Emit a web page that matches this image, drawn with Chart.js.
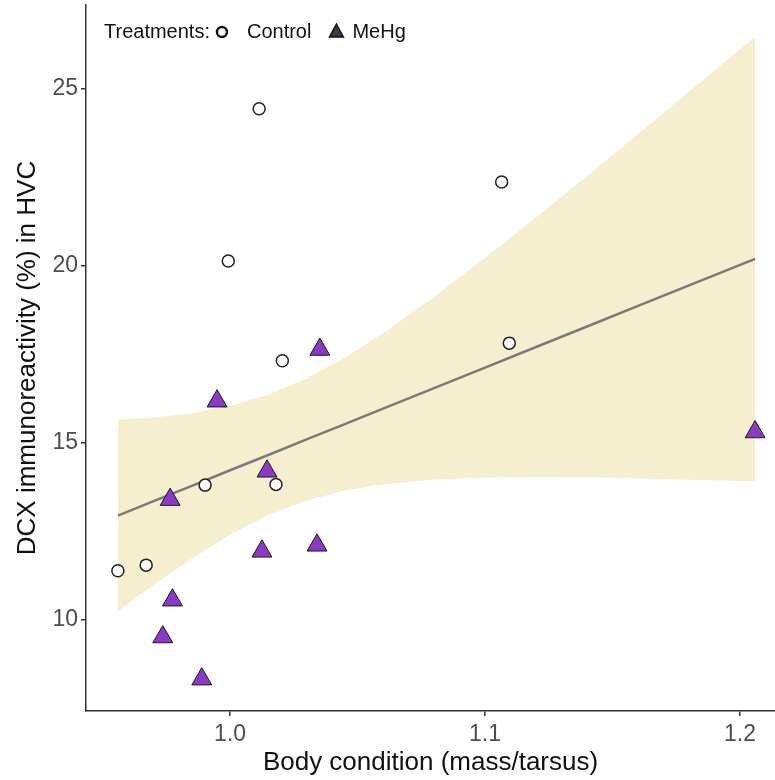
<!DOCTYPE html>
<html lang="en">
<head>
<meta charset="UTF-8">
<title>DCX immunoreactivity vs body condition</title>
<script src="https://cdn.jsdelivr.net/npm/chart.js@4.4.1/dist/chart.umd.min.js"></script>
<style>
    html, body { margin: 0; padding: 0; background: #fff; }
    #wrap { width: 775px; height: 780px; }
</style>
</head>
<body>
<div id="wrap"><canvas id="scatterChart" width="775" height="780"></canvas></div>
<script>
    // Control birds
    const controlX = [0.9560, 0.9671, 0.9902, 0.9993, 1.0114, 1.0180, 1.0205, 1.1065, 1.1095];
    const controlY = [11.39, 11.55, 13.81, 20.14, 24.44, 13.83, 17.32, 22.37, 17.82];

    // MeHg-dosed birds
    const mehgX = [0.9765, 0.9774, 0.9736, 0.9889, 0.9949, 1.0145, 1.0125, 1.0352, 1.0341, 1.2059];
    const mehgY = [13.40, 10.56, 9.52, 8.33, 16.18, 14.20, 11.94, 17.64, 12.11, 15.31];

    // Linear fit with its confidence band
    const fitX     = [0.956, 0.970, 0.985, 1.000, 1.015, 1.030, 1.045, 1.060, 1.080, 1.100, 1.120, 1.140, 1.160, 1.180, 1.2059];
    const fitY     = [12.95, 13.36, 13.79, 14.23, 14.66, 15.10, 15.53, 15.97, 16.55, 17.13, 17.71, 18.29, 18.87, 19.45, 20.20];
    const fitUpper = [15.66, 15.72, 15.84, 16.05, 16.37, 16.82, 17.41, 18.10, 19.13, 20.23, 21.37, 22.54, 23.73, 24.93, 26.47];
    const fitLower = [10.24, 10.99, 11.74, 12.41, 12.96, 13.37, 13.66, 13.83, 13.97, 14.02, 14.04, 14.03, 14.00, 13.96, 13.92];

    const xTicks = [1.0, 1.1, 1.2];
    const yTicks = [10, 15, 20, 25];

    const FONT = "'Liberation Sans', Arial, sans-serif";
    const toPoints = (xs, ys) => xs.map((x, i) => ({ x: x, y: ys[i] }));

    // the y labels never sit at the ends of the axis, so no extra room is needed for them
    const noEdgePadding = s => {
        s.paddingTop = 0;
        s.paddingBottom = 0;
    };

    // "Treatments:" key drawn inside the top-left of the plot
    const treatmentLegend = {
        id: 'treatmentLegend',
        afterDraw(chart) {
            const { ctx, chartArea } = chart;
            const y = chartArea.top + 27;
            let x = chartArea.left + 18;
            ctx.save();
            ctx.font = '20px ' + FONT;
            ctx.textBaseline = 'middle';
            ctx.fillStyle = '#111';
            ctx.fillText('Treatments:', x, y);
            x += ctx.measureText('Treatments:').width + 12;

            // open circle
            ctx.beginPath();
            ctx.arc(x, y, 5, 0, Math.PI * 2);
            ctx.fillStyle = '#fff';
            ctx.fill();
            ctx.lineWidth = 2.4;
            ctx.strokeStyle = '#111';
            ctx.stroke();
            x += 25;
            ctx.fillStyle = '#111';
            ctx.fillText('Control', x, y);
            x += ctx.measureText('Control').width + 25;

            // filled triangle
            const r = 8;
            ctx.beginPath();
            ctx.moveTo(x, y - r);
            ctx.lineTo(x + r * 0.866, y + r * 0.5 + 1);
            ctx.lineTo(x - r * 0.866, y + r * 0.5 + 1);
            ctx.closePath();
            ctx.fillStyle = '#45354f';
            ctx.fill();
            ctx.lineWidth = 1.5;
            ctx.strokeStyle = '#111';
            ctx.stroke();
            x += 16;
            ctx.fillStyle = '#111';
            ctx.fillText('MeHg', x, y);
            ctx.restore();
        }
    };

    const ctx = document.getElementById('scatterChart');
    new Chart(ctx, {
        type: 'scatter',
        data: {
            datasets: [
                {
                    label: 'Control',
                    data: toPoints(controlX, controlY),
                    pointStyle: 'circle',
                    pointRadius: 6,
                    backgroundColor: '#ffffff',
                    borderColor: '#222222',
                    borderWidth: 1.5,
                    order: 0
                },
                {
                    label: 'MeHg',
                    data: toPoints(mehgX, mehgY),
                    pointStyle: 'triangle',
                    pointRadius: 11.5,
                    backgroundColor: '#8a3ac4',
                    borderColor: '#1a1a1a',
                    borderWidth: 1,
                    order: 0
                },
                {
                    type: 'line',
                    label: 'fit',
                    data: toPoints(fitX, fitY),
                    borderColor: '#7a7a7a',
                    borderWidth: 2.5,
                    pointRadius: 0,
                    tension: 0,
                    fill: false,
                    order: 1
                },
                {
                    type: 'line',
                    label: 'upper',
                    data: toPoints(fitX, fitUpper),
                    borderColor: 'rgba(0,0,0,0)',
                    borderWidth: 0,
                    pointRadius: 0,
                    backgroundColor: '#f5eecf',
                    fill: '+1',
                    order: 2
                },
                {
                    type: 'line',
                    label: 'lower',
                    data: toPoints(fitX, fitLower),
                    borderColor: 'rgba(0,0,0,0)',
                    borderWidth: 0,
                    pointRadius: 0,
                    fill: false,
                    order: 2
                }
            ]
        },
        options: {
            responsive: false,
            animation: false,
            devicePixelRatio: 1,
            // keep the plot flush with the canvas edges; big markers would otherwise add room
            layout: { autoPadding: false, padding: { top: 5, right: 0, bottom: 0, left: 0 } },
            plugins: {
                legend: { display: false },
                tooltip: { enabled: false }
            },
            scales: {
                x: {
                    type: 'linear',
                    min: 0.9435,
                    max: 1.2137,
                    afterBuildTicks: s => { s.ticks = xTicks.map(v => ({ value: v })); },
                    afterFit: s => { s.height = 69; },
                    border: { display: true, color: '#333', width: 1.5 },
                    grid: { drawOnChartArea: false, drawTicks: true, tickLength: 5, color: '#333', lineWidth: 1.5 },
                    ticks: {
                        color: '#4d4d4d',
                        font: { family: FONT, size: 23 },
                        padding: 5,
                        callback: v => v.toFixed(1)
                    },
                    title: {
                        display: true,
                        text: 'Body condition (mass/tarsus)',
                        color: '#111',
                        font: { family: FONT, size: 26 },
                        padding: { top: 0, bottom: 2 }
                    }
                },
                y: {
                    type: 'linear',
                    min: 7.43,
                    max: 27.37,
                    afterBuildTicks: s => { s.ticks = yTicks.map(v => ({ value: v })); },
                    afterFit: s => { s.width = 86; noEdgePadding(s); },
                    border: { display: true, color: '#333', width: 1.5 },
                    grid: { drawOnChartArea: false, drawTicks: true, tickLength: 5, color: '#333', lineWidth: 1.5 },
                    ticks: {
                        color: '#4d4d4d',
                        font: { family: FONT, size: 23, lineHeight: 0.1 },
                        padding: 3
                    },
                    title: {
                        display: true,
                        text: 'DCX immunoreactivity (%) in HVC',
                        color: '#111',
                        font: { family: FONT, size: 26 },
                        padding: { top: 12, bottom: 0 }
                    }
                }
            }
        },
        plugins: [treatmentLegend]
    });
</script>
</body>
</html>
